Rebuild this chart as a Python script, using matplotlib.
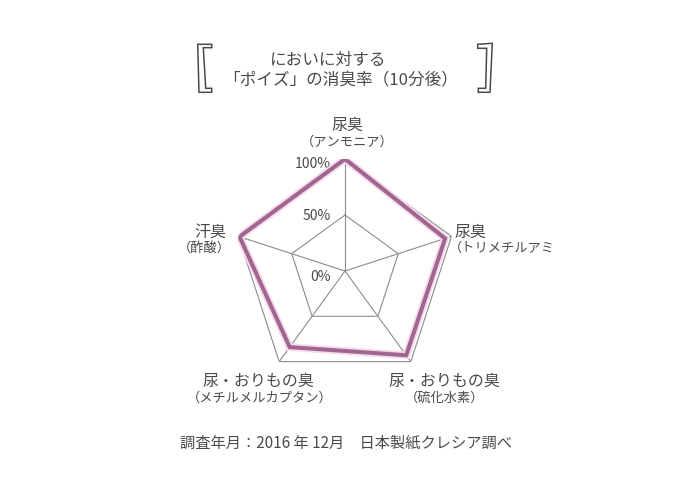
import numpy as np
import matplotlib
matplotlib.use("Agg")
import matplotlib.pyplot as plt
from matplotlib.patches import Polygon

plt.rcParams['font.family'] = ['Noto Sans CJK JP', 'DejaVu Sans']

# -----------------------------
# Data (clockwise from the top)
# -----------------------------
categories = ["尿臭", "尿臭", "尿・おりもの臭", "尿・おりもの臭", "汗臭"]
subcategories = ["（アンモニア）", "（トリメチルアミ", "（硫化水素）", "（メチルメルカプタン）", "（酢酸）"]
values = [100, 94, 93, 84, 99]
ring_levels = [50, 100]
tick_labels = ["0%", "50%", "100%"]

title_lines = ["においに対する", "「ポイズ」の消臭率（10分後）"]
footer = "調査年月：2016 年 12月　日本製紙クレシア調べ"

TEXT = "#4a4a4a"
GRID = "#8c8c8c"
LINE = "#a0668f"
GLOW = "#f7d9ec"

W, H = 700, 500
fig = plt.figure(figsize=(W / 100, H / 100), dpi=100)
fig.patch.set_facecolor("white")

# overlay axes in pixel coordinates for text and the title brackets
deco = fig.add_axes([0, 0, 1, 1])
deco.set_xlim(0, W)
deco.set_ylim(H, 0)
deco.axis("off")

# polar axes: centre (345, 271) px, radius 112 px
cx, cy, R = 345, 271, 112
ax = fig.add_axes([(cx - R) / W, (H - cy - R) / H, 2 * R / W, 2 * R / H], projection="polar")
ax.set_theta_offset(np.pi / 2)
ax.set_theta_direction(-1)
ax.set_ylim(0, 100)
ax.axis("off")

n = len(values)
angles = np.linspace(0, 2 * np.pi, n, endpoint=False)
closed = np.append(angles, angles[0])

# pentagon grid
for lvl in ring_levels:
    ax.plot(closed, [lvl] * (n + 1), color=GRID, lw=0.8, zorder=1)
for a in angles:
    ax.plot([a, a], [0, 100], color=GRID, lw=0.8, zorder=1)

# data polygon with a soft pink halo
vals = values + values[:1]
ax.plot(closed, vals, color=GLOW, lw=5.5, solid_joinstyle="miter", zorder=2)
ax.plot(closed, vals, color=LINE, lw=2.9, solid_joinstyle="miter", zorder=3)

# radial tick labels
for lab, y in zip(tick_labels, [277, 216, 164]):
    deco.text(331, y, lab, ha="right", va="center", fontsize=10, color=TEXT)

# category labels (pixel positions)
label_pos = [
    (347, 125, 347, 142, "center"),
    (454, 232, 449, 248, "left"),
    (444, 381, 445, 398, "center"),
    (258, 381, 260, 398, "center"),
    (226, 232, 231, 248, "right"),
]
for (x1, y1, x2, y2, ha), cat, sub in zip(label_pos, categories, subcategories):
    deco.text(x1, y1, cat, ha=ha, va="center", fontsize=11.5, color=TEXT)
    deco.text(x2, y2, sub, ha=ha, va="center", fontsize=9.5, color=TEXT)

# title
deco.text(328, 60, title_lines[0], ha="center", va="center", fontsize=12, color=TEXT)
deco.text(341, 81, title_lines[1], ha="center", va="center", fontsize=12, color=TEXT)

# hand-drawn style brackets around the title
left_br = [(197.7, 44.3), (211.7, 44.3), (211.7, 47.7), (203.3, 47.7), (205.7, 88.3),
           (211.7, 88.3), (211.7, 92.3), (199, 92.3)]
right_br = [(477.7, 44.3), (492.3, 43.3), (490, 92.3), (478.3, 92.3), (478.3, 88.3),
            (485.7, 88.3), (486.7, 48.3), (477.7, 48.3)]
for pts in (left_br, right_br):
    deco.add_patch(Polygon(pts, closed=True, fill=False, edgecolor="#4a4a4a", lw=1.1))

# footer
deco.text(346, 443, footer, ha="center", va="center", fontsize=11, color=TEXT)

fig.savefig("out.png", dpi=100, facecolor="white")
